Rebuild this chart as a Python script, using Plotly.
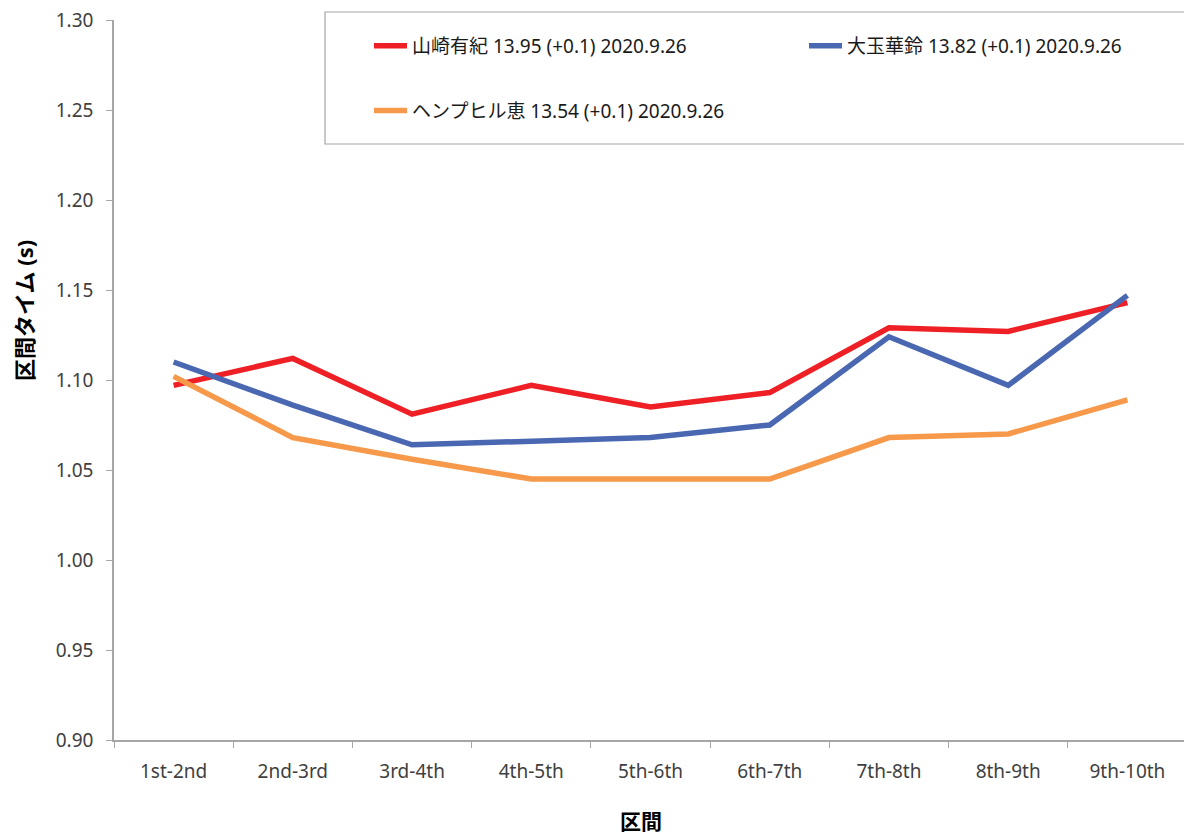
# plot.py
# split times between hurdles, three runners

import plotly.graph_objects as go

segments = ["1st-2nd", "2nd-3rd", "3rd-4th", "4th-5th", "5th-6th",
            "6th-7th", "7th-8th", "8th-9th", "9th-10th"]

yamasaki = [1.097, 1.112, 1.081, 1.097, 1.085, 1.093, 1.129, 1.127, 1.143]
otama = [1.110, 1.086, 1.064, 1.066, 1.068, 1.075, 1.124, 1.097, 1.147]
hemphill = [1.102, 1.068, 1.056, 1.045, 1.045, 1.045, 1.068, 1.070, 1.089]

names = [
    "山崎有紀 13.95 (+0.1) 2020.9.26",
    "大玉華鈴 13.82 (+0.1) 2020.9.26",
    "ヘンプヒル恵 13.54 (+0.1) 2020.9.26",
]
colors = ["#ee1f25", "#4a67b1", "#f7994a"]
# red + orange share the left legend column, blue sits in the right one
legend_ids = ["legend", "legend2", "legend"]

y_min, y_max, y_step = 0.9, 1.3, 0.05

font_family = "Noto Sans, Noto Sans CJK JP"
axis_gray = "#a6a6a6"

# the page body has an 8px margin, so the figure is drawn 8px smaller
# and everything is measured from the plot area (paper coordinates)
W, H = 1184, 829
plot_l, plot_t, plot_w, plot_h = 114, 20, 1073, 720


def px_x(x):
    return (x - plot_l) / plot_w


def px_y(y):
    return (plot_t + plot_h - y) / plot_h


fig = go.Figure()

for name, values, color, leg in zip(names, [yamasaki, otama, hemphill], colors, legend_ids):
    fig.add_trace(
        go.Scatter(
            x=segments,
            y=values,
            mode="lines",
            name=name,
            legend=leg,
            legendgroup=name,
            line=dict(color=color, width=5.5),
            hovertemplate="%{x}: %{y:.3f}<extra></extra>",
        )
    )

legend_style = dict(
    orientation="v",
    xanchor="left",
    y=px_y(27),
    yanchor="top",
    itemwidth=33,
    tracegroupgap=37,
    bgcolor="rgba(0,0,0,0)",
    borderwidth=0,
    font=dict(family=font_family, size=19, color="#1a1a1a"),
)

fig.update_layout(
    width=W,
    height=H,
    margin=dict(l=106, r=5, t=12, b=97, autoexpand=False),
    paper_bgcolor="white",
    plot_bgcolor="white",
    font=dict(family=font_family, size=19, color="#404040"),
    showlegend=True,
    legend=dict(x=px_x(369), **legend_style),
    legend2=dict(x=px_x(804), **legend_style),
    xaxis=dict(
        type="category",
        range=[-0.5, 8.5],
        automargin=False,
        showline=True,
        linecolor=axis_gray,
        linewidth=1.5,
        showgrid=False,
        ticks="outside",
        tickson="boundaries",
        ticklen=6,
        tickcolor=axis_gray,
        ticklabelstandoff=13,
        tickfont=dict(size=19),
    ),
    yaxis=dict(
        # tiny headroom so the 1.30 tick survives float rounding
        range=[y_min, y_max + 1e-9],
        tick0=y_min,
        dtick=y_step,
        tickformat=".2f",
        ticklabeloverflow="allow",
        automargin=False,
        showline=True,
        linecolor=axis_gray,
        linewidth=1.5,
        showgrid=False,
        zeroline=False,
        ticks="outside",
        ticklen=6,
        tickcolor=axis_gray,
        ticklabelstandoff=9,
        tickfont=dict(size=19),
    ),
    shapes=[
        dict(
            type="rect",
            xref="paper",
            yref="paper",
            x0=px_x(325),
            x1=px_x(1191),
            y0=px_y(144),
            y1=px_y(12),
            line=dict(color=axis_gray, width=1.2),
            fillcolor="rgba(0,0,0,0)",
            layer="below",
        )
    ],
    annotations=[
        dict(
            text="<b>区間タイム (s)</b>",
            xref="paper",
            yref="paper",
            x=px_x(24),
            y=px_y(311),
            xanchor="center",
            yanchor="middle",
            textangle=-90,
            showarrow=False,
            font=dict(size=22, color="#000000"),
        ),
        dict(
            text="<b>区間</b>",
            xref="paper",
            yref="paper",
            x=px_x(641),
            y=px_y(821),
            xanchor="center",
            yanchor="middle",
            showarrow=False,
            font=dict(size=21, color="#000000"),
        ),
    ],
)

fig.write_html("out.html")
